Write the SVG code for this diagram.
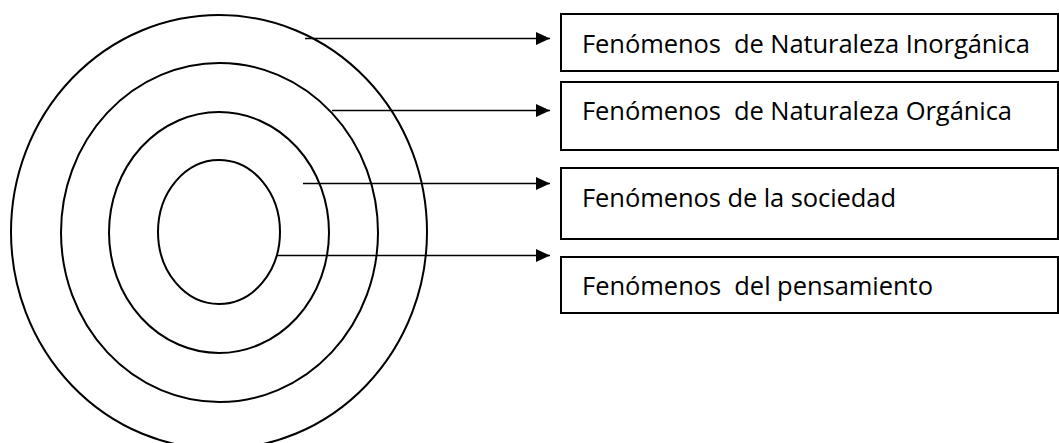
<svg xmlns="http://www.w3.org/2000/svg" width="1059" height="443" viewBox="0 0 1059 443">
<style>
.ring{fill:none;stroke:#000;stroke-width:2}
.box{fill:#fff;stroke:#000;stroke-width:2}
.lbl{font-family:"Open Sans","Liberation Sans",sans-serif;font-size:25.5px;fill:#000;white-space:pre}
.con{stroke:#000;stroke-width:1.6;fill:none;marker-end:url(#ah)}
</style>
<defs>
<marker id="ah" markerUnits="userSpaceOnUse" markerWidth="14" markerHeight="14" refX="14" refY="7" orient="auto">
<path d="M0,0.5 L14,7 L0,13.5 Z" fill="#000"/>
</marker>
</defs>
<rect width="1059" height="443" fill="#fff"/>
<g id="rings">
<ellipse id="ring-outer" class="ring" cx="219" cy="232" rx="208" ry="217"/>
<ellipse id="ring-2" class="ring" cx="219.5" cy="232.5" rx="158.5" ry="169.5"/>
<ellipse id="ring-3" class="ring" cx="219" cy="232.5" rx="110" ry="120.5"/>
<ellipse id="ring-inner" class="ring" cx="219" cy="232" rx="61" ry="72"/>
</g>
<g id="connectors">
<line class="con" x1="305" y1="38.5" x2="550" y2="38.5"/>
<line class="con" x1="332" y1="110.5" x2="550" y2="110.5"/>
<line class="con" x1="303" y1="183.5" x2="550" y2="183.5"/>
<line class="con" x1="277" y1="255.5" x2="550" y2="255.5"/>
</g>
<g id="node-inorganica">
<rect class="box" x="561" y="14" width="497" height="57"/>
<text class="lbl" x="582" y="53" textLength="448">Fenómenos  de Naturaleza Inorgánica</text>
</g>
<g id="node-organica">
<rect class="box" x="561" y="82" width="497" height="68"/>
<text class="lbl" x="582" y="120" textLength="430">Fenómenos  de Naturaleza Orgánica</text>
</g>
<g id="node-sociedad">
<rect class="box" x="561" y="168" width="497" height="71"/>
<text class="lbl" x="582" y="207" textLength="314">Fenómenos de la sociedad</text>
</g>
<g id="node-pensamiento">
<rect class="box" x="561" y="257" width="497" height="56"/>
<text class="lbl" x="582" y="295" textLength="351">Fenómenos  del pensamiento</text>
</g>
</svg>
